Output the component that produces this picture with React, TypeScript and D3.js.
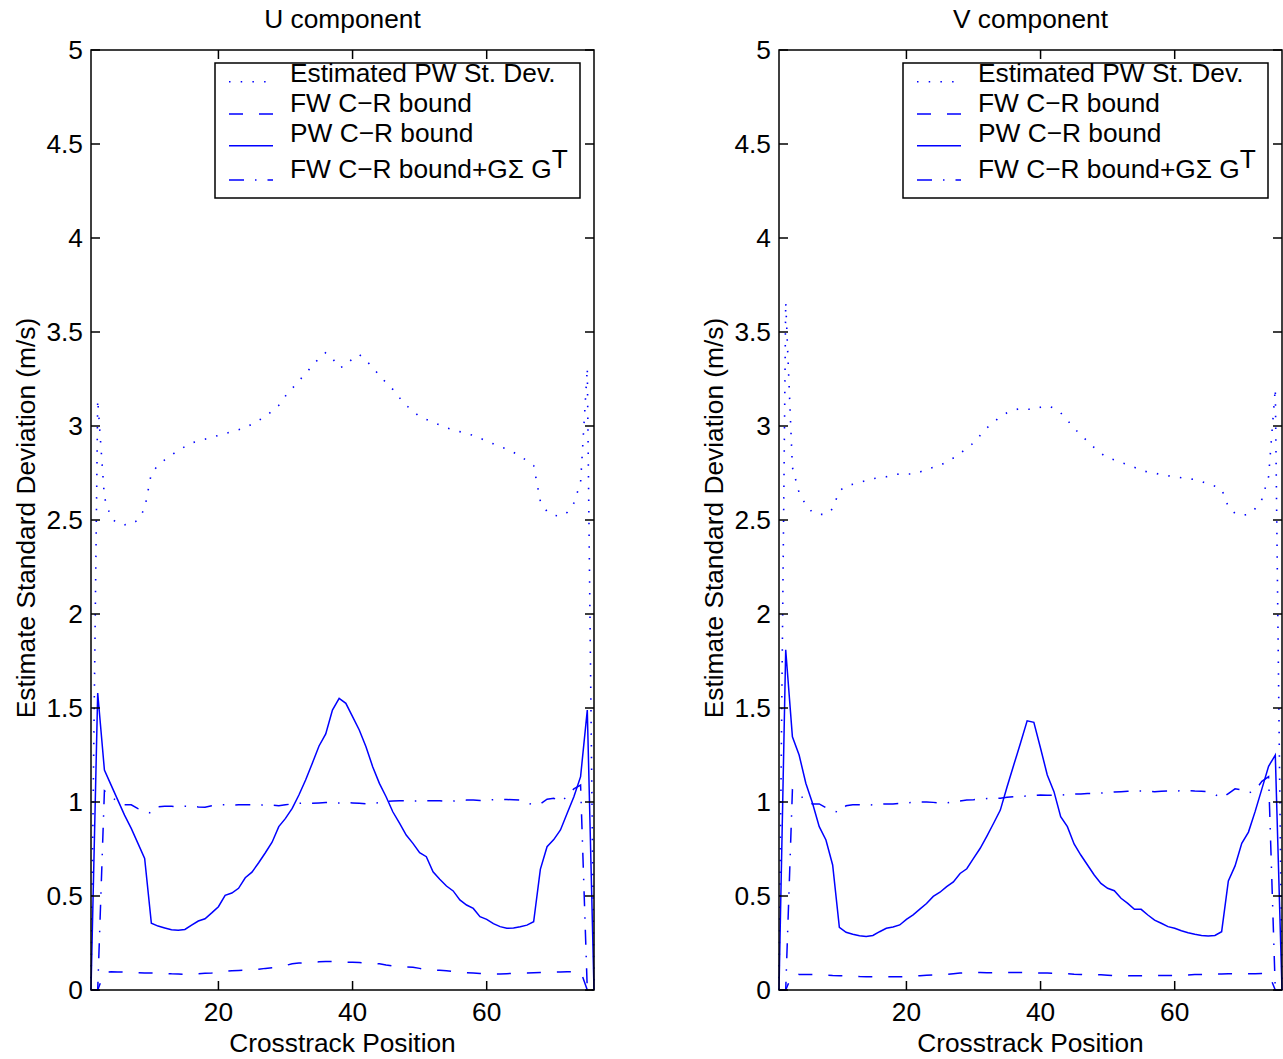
import React from "react";
import * as d3 from "d3";

// ---------- data ----------
const positions: number[] = d3.range(1, 77); // crosstrack index 1..76

const uEstimated = [0, 3.14, 2.62, 2.51, 2.48, 2.475, 2.477, 2.5, 2.56, 2.75, 2.79, 2.82, 2.845, 2.87, 2.89, 2.91, 2.92, 2.93, 2.94, 2.95, 2.96, 2.97, 2.98, 2.99, 3.01, 3.03, 3.05, 3.08, 3.11, 3.16, 3.2, 3.24, 3.28, 3.32, 3.36, 3.39, 3.36, 3.31, 3.32, 3.36, 3.38, 3.35, 3.31, 3.27, 3.23, 3.195, 3.15, 3.11, 3.08, 3.05, 3.035, 3.02, 3.005, 2.99, 2.98, 2.97, 2.96, 2.95, 2.935, 2.92, 2.905, 2.89, 2.878, 2.86, 2.84, 2.815, 2.79, 2.6, 2.545, 2.525, 2.52, 2.54, 2.59, 2.7, 3.31, 0];
const uFW = [0, 0, 0.095, 0.097, 0.096, 0.095, 0.094, 0.092, 0.09, 0.09, 0.089, 0.088, 0.086, 0.085, 0.084, 0.085, 0.087, 0.089, 0.09, 0.092, 0.1, 0.103, 0.104, 0.105, 0.107, 0.11, 0.115, 0.118, 0.12, 0.13, 0.14, 0.143, 0.145, 0.148, 0.15, 0.151, 0.151, 0.15, 0.148, 0.147, 0.146, 0.143, 0.141, 0.139, 0.133, 0.128, 0.124, 0.122, 0.121, 0.115, 0.108, 0.106, 0.105, 0.103, 0.098, 0.093, 0.092, 0.09, 0.088, 0.086, 0.085, 0.085, 0.087, 0.088, 0.09, 0.09, 0.092, 0.093, 0.094, 0.095, 0.096, 0.097, 0.098, 0.1, 0, 0];
const uPW = [0, 1.58, 1.17, 1.09, 1.01, 0.93, 0.86, 0.78, 0.7, 0.355, 0.34, 0.33, 0.32, 0.318, 0.322, 0.345, 0.367, 0.379, 0.41, 0.443, 0.504, 0.516, 0.541, 0.597, 0.627, 0.677, 0.73, 0.786, 0.869, 0.913, 0.966, 1.037, 1.117, 1.206, 1.298, 1.362, 1.489, 1.551, 1.525, 1.454, 1.383, 1.294, 1.188, 1.099, 1.028, 0.948, 0.887, 0.824, 0.78, 0.73, 0.709, 0.629, 0.589, 0.553, 0.527, 0.479, 0.452, 0.434, 0.39, 0.376, 0.353, 0.337, 0.328, 0.33, 0.336, 0.345, 0.363, 0.642, 0.762, 0.8, 0.851, 0.94, 1.028, 1.135, 1.489, 0];
const uFWG = [0, 0, 1.06, 1.03, 1.0, 0.985, 0.985, 0.965, 0.95, 0.94, 0.975, 0.978, 0.977, 0.975, 0.978, 0.977, 0.974, 0.972, 0.98, 0.985, 0.985, 0.984, 0.985, 0.985, 0.985, 0.983, 0.985, 0.984, 0.98, 0.985, 0.99, 0.993, 0.994, 0.993, 0.995, 0.997, 0.996, 0.995, 0.997, 0.995, 0.993, 0.99, 0.993, 0.997, 1.003, 1.005, 1.007, 1.006, 1.005, 1.005, 1.007, 1.007, 1.006, 1.003, 1.005, 1.008, 1.01, 1.01, 1.008, 1.01, 1.012, 1.013, 1.013, 1.012, 1.01, 0.995, 0.985, 0.99, 1.015, 1.02, 1.0, 1.03, 1.07, 1.09, 0, 0];

const vEstimated = [0, 3.66, 2.78, 2.645, 2.58, 2.54, 2.53, 2.53, 2.56, 2.655, 2.68, 2.69, 2.7, 2.71, 2.72, 2.725, 2.73, 2.74, 2.745, 2.744, 2.745, 2.755, 2.77, 2.78, 2.79, 2.81, 2.83, 2.855, 2.88, 2.91, 2.95, 2.99, 3.02, 3.05, 3.07, 3.085, 3.093, 3.09, 3.087, 3.1, 3.108, 3.095, 3.07, 3.03, 2.99, 2.95, 2.92, 2.885, 2.855, 2.83, 2.82, 2.805, 2.795, 2.78, 2.765, 2.755, 2.75, 2.74, 2.735, 2.73, 2.725, 2.72, 2.715, 2.705, 2.69, 2.68, 2.665, 2.57, 2.535, 2.525, 2.53, 2.56, 2.61, 2.73, 3.2, 0];
const vFW = [0, 0, 0.085, 0.083, 0.082, 0.082, 0.081, 0.079, 0.077, 0.076, 0.075, 0.074, 0.072, 0.071, 0.07, 0.07, 0.07, 0.07, 0.071, 0.071, 0.073, 0.076, 0.079, 0.08, 0.081, 0.083, 0.087, 0.09, 0.092, 0.093, 0.093, 0.092, 0.092, 0.092, 0.093, 0.093, 0.093, 0.092, 0.091, 0.09, 0.09, 0.089, 0.088, 0.086, 0.084, 0.083, 0.082, 0.082, 0.081, 0.079, 0.077, 0.076, 0.076, 0.076, 0.076, 0.076, 0.076, 0.077, 0.077, 0.077, 0.078, 0.08, 0.082, 0.083, 0.084, 0.085, 0.085, 0.086, 0.086, 0.087, 0.087, 0.087, 0.088, 0.088, 0, 0];
const vPW = [0, 1.81, 1.347, 1.25, 1.1, 0.993, 0.869, 0.798, 0.665, 0.333, 0.307, 0.297, 0.289, 0.285, 0.29, 0.31, 0.328, 0.335, 0.346, 0.376, 0.4, 0.43, 0.46, 0.498, 0.52, 0.55, 0.575, 0.62, 0.645, 0.7, 0.754, 0.819, 0.887, 0.957, 1.08, 1.197, 1.312, 1.432, 1.424, 1.286, 1.144, 1.055, 0.922, 0.869, 0.777, 0.718, 0.665, 0.612, 0.567, 0.541, 0.528, 0.488, 0.461, 0.429, 0.429, 0.399, 0.372, 0.355, 0.337, 0.328, 0.315, 0.305, 0.297, 0.29, 0.287, 0.29, 0.31, 0.58, 0.66, 0.78, 0.84, 0.95, 1.07, 1.19, 1.25, 0];
const vFWG = [0, 0, 1.064, 1.046, 1.0, 0.99, 0.99, 0.97, 0.955, 0.943, 0.98, 0.985, 0.985, 0.983, 0.985, 0.988, 0.99, 0.99, 0.993, 0.995, 0.998, 1.0, 1.0, 0.998, 0.995, 0.995, 1.0, 1.005, 1.01, 1.012, 1.015, 1.018, 1.02, 1.02, 1.025, 1.028, 1.03, 1.032, 1.035, 1.037, 1.036, 1.035, 1.036, 1.04, 1.042, 1.043, 1.045, 1.045, 1.048, 1.05, 1.053, 1.055, 1.057, 1.058, 1.058, 1.056, 1.055, 1.057, 1.058, 1.058, 1.06, 1.06, 1.058, 1.057, 1.055, 1.04, 1.02, 1.045, 1.07, 1.065, 1.048, 1.06, 1.11, 1.135, 0, 0];

const xTicks = [20, 40, 60];
const yTicks = [0, 0.5, 1, 1.5, 2, 2.5, 3, 3.5, 4, 4.5, 5];
const legendLabels = ["Estimated PW St. Dev.", "FW C\u2212R bound", "PW C\u2212R bound", "FW C\u2212R bound+G\u03A3 G"];
const panelTitles = ["U component", "V component"];
const xLabel = "Crosstrack Position";
const yLabel = "Estimate Standard Deviation (m/s)";

// ---------- styles ----------
const FONT = "'Liberation Sans', Arial, Helvetica, sans-serif";
const FS = 26.3;
const BLUE = "#0000ff";
const dashes = ["1.5 10.2", "14 16", "", "15 11 1.5 11"];
const W = 1283;
const H = 1059;
const TICK = 9;

type PanelProps = { left: number; right: number; title: string; series: number[][] };

function Panel({ left, right, title, series }: PanelProps) {
  const top = 50;
  const bottom = 990;
  const x = d3.scaleLinear().domain([1, 76]).range([left, right]);
  const y = d3.scaleLinear().domain([0, 5]).range([bottom, top]);
  const line = d3
    .line<number>()
    .x((_, i) => x(positions[i]))
    .y((d) => y(d));
  const cx = (left + right) / 2;
  const lgX = left + 124;
  const lgY = 63;
  const textBase = [81.7, 112.3, 142.3, 177.7];
  const sampleY = [81.7, 114, 145.7, 180];
  return (
    <g>
      {series.map((s, k) => (
        <path
          key={k}
          d={line(s) || ""}
          fill="none"
          stroke={BLUE}
          strokeWidth={k === 0 ? 1.6 : 1.5}
          strokeDasharray={dashes[k] || undefined}
        />
      ))}
      {/* axes box */}
      <rect x={left} y={top} width={right - left} height={bottom - top} fill="none" stroke="#000" strokeWidth={1.5} />
      {xTicks.map((t) => (
        <g key={"xt" + t}>
          <line x1={x(t)} x2={x(t)} y1={bottom} y2={bottom - TICK} stroke="#000" strokeWidth={1.5} />
          <line x1={x(t)} x2={x(t)} y1={top} y2={top + TICK} stroke="#000" strokeWidth={1.5} />
          <text x={x(t)} y={1021} textAnchor="middle" fontFamily={FONT} fontSize={FS}>
            {t}
          </text>
        </g>
      ))}
      {yTicks.map((t) => (
        <g key={"yt" + t}>
          <line x1={left} x2={left + TICK} y1={y(t)} y2={y(t)} stroke="#000" strokeWidth={1.5} />
          <line x1={right} x2={right - TICK} y1={y(t)} y2={y(t)} stroke="#000" strokeWidth={1.5} />
          <text x={left - 8} y={y(t) + 9} textAnchor="end" fontFamily={FONT} fontSize={FS}>
            {String(t)}
          </text>
        </g>
      ))}
      <text x={cx} y={28} textAnchor="middle" fontFamily={FONT} fontSize={FS}>
        {title}
      </text>
      <text x={cx} y={1052} textAnchor="middle" fontFamily={FONT} fontSize={FS}>
        {xLabel}
      </text>
      <text
        transform={`translate(${left - 56},${(top + bottom) / 2 - 2}) rotate(-90)`}
        textAnchor="middle"
        fontFamily={FONT}
        fontSize={FS}
      >
        {yLabel}
      </text>
      {/* legend */}
      <rect x={lgX} y={lgY} width={365} height={135} fill="#fff" stroke="#000" strokeWidth={1.5} />
      {legendLabels.map((lab, k) => (
        <g key={"lg" + k}>
          <line
            x1={lgX + 14}
            x2={lgX + 58}
            y1={sampleY[k]}
            y2={sampleY[k]}
            stroke={BLUE}
            strokeWidth={1.5}
            strokeDasharray={dashes[k] || undefined}
          />
          <text x={lgX + 75} y={textBase[k]} fontFamily={FONT} fontSize={FS}>
            {lab}
            {k === 3 ? <tspan dy={-10}>T</tspan> : null}
          </text>
        </g>
      ))}
    </g>
  );
}

export default function App() {
  return (
    <svg width={W} height={H} style={{ position: "absolute", left: 0, top: 0, background: "#fff" }}>
      <rect x={0} y={0} width={W} height={H} fill="#fff" />
      <Panel left={91} right={594} title={panelTitles[0]} series={[uEstimated, uFW, uPW, uFWG]} />
      <Panel left={779} right={1282} title={panelTitles[1]} series={[vEstimated, vFW, vPW, vFWG]} />
    </svg>
  );
}
